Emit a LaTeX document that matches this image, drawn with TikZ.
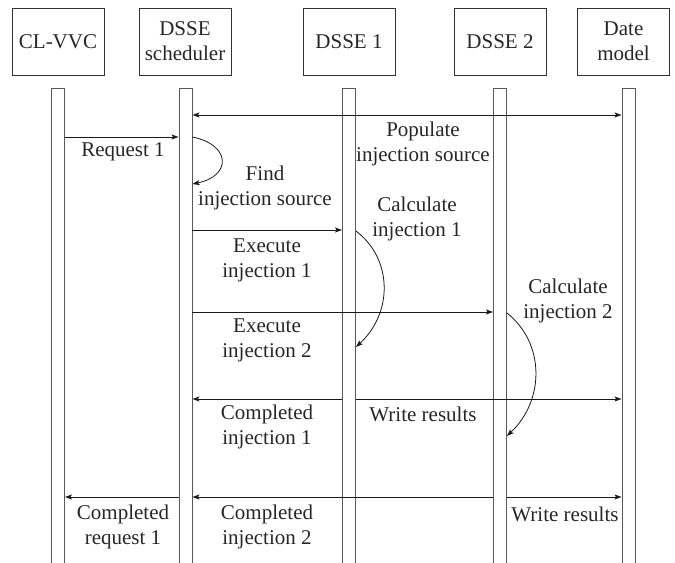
\documentclass[tikz,border=0pt]{standalone}
\usepackage{fontspec}
\setmainfont{Liberation Serif}
\usetikzlibrary{arrows.meta}

\begin{document}
\begin{tikzpicture}[x=1bp,y=-1bp,
  every node/.style={font=\fontsize{21bp}{25bp}\selectfont, text=black!85},
  actor/.style={draw=black!80, line width=0.9bp, minimum width=92bp, minimum height=67bp,
                inner sep=0pt, align=center},
  life/.style={draw=black!65, line width=0.9bp, minimum width=13bp, minimum height=520bp,
               inner sep=0pt, anchor=north},
  msg/.style={draw=black!90, line width=0.8bp, -{Stealth[length=7bp,width=5bp,inset=1.5bp]}},
  both/.style={draw=black!90, line width=0.8bp,
               {Stealth[length=7bp,width=5bp,inset=1.5bp]}-{Stealth[length=7bp,width=5bp,inset=1.5bp]}},
  lbl/.style={align=center, inner sep=0pt}
]
\useasboundingbox (0,0) rectangle (675,563);
\clip (0,0) rectangle (675,563);

% participants
\node[actor] (vvc)   at (58,41.5)    {CL-VVC};
\node[actor] (sch)   at (185,41.5)   {DSSE\\scheduler};
\node[actor] (d1)    at (349,41.5)   {DSSE 1};
\node[actor] (d2)    at (500,41.5)   {DSSE 2};
\node[actor] (dm)    at (623.5,41.5) {Date\\model};

% lifelines
\node[life] (Lvvc) at (58,88)    {};
\node[life] (Lsch) at (185.5,88) {};
\node[life] (Ld1)  at (349,88)   {};
\node[life] (Ld2)  at (500,88)   {};
\node[life] (Ldm)  at (628.5,88) {};

% populate injection source
\draw[both] (Lsch.east |- 0,115) -- (Ldm.west |- 0,115);
\node[lbl] (tpop) at (423,144) {Populate\\injection source};

% request 1
\draw[msg] (Lvvc.east |- 0,137) -- (Lsch.west |- 0,137);
\node[lbl] (treq) at (123,152) {Request 1};

% find injection source (self call)
\coordinate (fs) at (Lsch.east |- 0,137);
\coordinate (fe) at (Lsch.east |- 0,184);
\draw[msg] (fs) .. controls ++(39,8) and ([shift={(39,-8)}]fe) .. (fe);
\node[lbl] (tfind) at (265,188) {Find\\injection source};

% execute injection 1
\draw[msg] (Lsch.east |- 0,230) -- (Ld1.west |- 0,230);
\node[lbl] (tex1) at (267,260) {Execute\\injection 1};

% calculate injection 1 (self call)
\coordinate (c1s) at (Ld1.east |- 0,231);
\coordinate (c1e) at (Ld1.east |- 0,347);
\draw[msg] (c1s) .. controls ++(37,28) and ([shift={(37,-34)}]c1e) .. (c1e);
\node[lbl] (tc1) at (417,219) {Calculate\\injection 1};

% execute injection 2
\draw[msg] (Lsch.east |- 0,312) -- (Ld2.west |- 0,312);
\node[lbl] (tex2) at (267,340) {Execute\\injection 2};

% calculate injection 2 (self call)
\coordinate (c2s) at (Ld2.east |- 0,313);
\coordinate (c2e) at (Ld2.east |- 0,436);
\draw[msg] (c2s) .. controls ++(38,30) and ([shift={(38,-36)}]c2e) .. (c2e);
\node[lbl] (tc2) at (568,301) {Calculate\\injection 2};

% completed injection 1 / write results
\draw[msg] (Ld1.west |- 0,399) -- (Lsch.east |- 0,399);
\node[lbl] (tci1) at (267,427) {Completed\\injection 1};
\draw[msg] (Ld1.east |- 0,399) -- (Ldm.west |- 0,399);
\node[lbl] (twr1) at (423,414) {Write results};

% completed injection 2 / request 1 / write results
\draw[msg] (Lsch.west |- 0,497) -- (Lvvc.east |- 0,497);
\node[lbl] (tcr1) at (123,527) {Completed\\request 1};
\draw[msg] (Ld2.west |- 0,497) -- (Lsch.east |- 0,497);
\node[lbl] (tci2) at (267,527) {Completed\\injection 2};
\draw[msg] (Ld2.east |- 0,497) -- (Ldm.west |- 0,497);
\node[lbl] (twr2) at (565,514) {Write results};
\end{tikzpicture}
\end{document}
